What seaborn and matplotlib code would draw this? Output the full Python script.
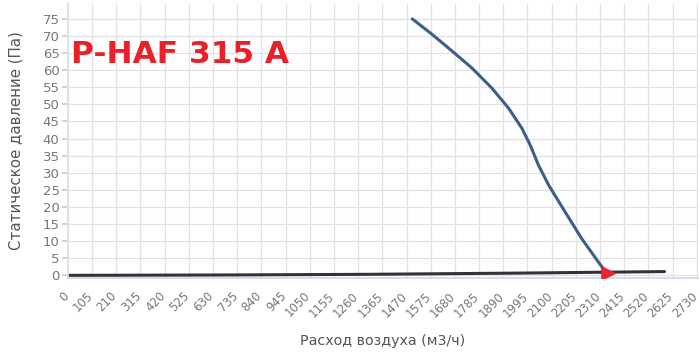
import matplotlib
matplotlib.use("Agg")
import matplotlib.pyplot as plt
import matplotlib.transforms as mtransforms
import seaborn as sns
import pandas as pd

# Fan curve (static pressure vs air flow)
fan_flow = [1495, 1579, 1666, 1753, 1840, 1913, 1971, 2007, 2043, 2087, 2159, 2232, 2305, 2341]
fan_pressure = [75, 70.6, 65.7, 60.7, 54.8, 48.9, 43.0, 38.1, 32.2, 26.4, 18.5, 10.6, 3.7, 0.5]

# System curve
sys_flow = [0, 650, 1300, 1950, 2590]
sys_pressure = [0, 0.1, 0.3, 0.65, 1.1]

# Operating point
op_flow = [2345]
op_pressure = [0.6]

x_ticks = list(range(0, 2731, 105))
y_ticks = list(range(0, 76, 5))
title = "P-HAF 315 A"
x_label = "Расход воздуха (м3/ч)"
y_label = "Статическое давление (Па)"

sns.set_theme(style="white")
plt.rcParams['font.family'] = ['DejaVu Sans']

fig = plt.figure(figsize=(7.0, 3.52), dpi=100)
ax = fig.add_axes([0.097, 0.21, 0.90, 0.78])

df_fan = pd.DataFrame({"flow": fan_flow, "pressure": fan_pressure})
df_sys = pd.DataFrame({"flow": sys_flow, "pressure": sys_pressure})

sns.lineplot(data=df_sys, x="flow", y="pressure", ax=ax, color="#333333", lw=2.2)
sns.lineplot(data=df_fan, x="flow", y="pressure", ax=ax, color="#3d5f86", lw=2.2)
ax.scatter(op_flow, op_pressure, marker=">", s=90, color="#e3262f", zorder=5)

ax.set_xlim(0, 2735)
ax.set_ylim(-0.8, 79.5)
ax.set_xticks(x_ticks)
ax.set_yticks(y_ticks)
ax.tick_params(axis="y", length=4, color="#cccccc", pad=2, left=True)
ax.tick_params(axis="x", length=0, pad=6)
ax.set_xticklabels([str(t) for t in x_ticks], rotation=45, ha="right",
                   rotation_mode="anchor", color="#777777", fontsize=8.5)
ax.set_yticklabels([str(t) for t in y_ticks], color="#777777", fontsize=9.5)
offset = mtransforms.ScaledTranslation(-6 / 100, -3 / 100, fig.dpi_scale_trans)
for lbl in ax.get_xticklabels():
    lbl.set_transform(lbl.get_transform() + offset)
ax.grid(True, color="#e2e2e2", lw=0.9)
for s in ["top", "right"]:
    ax.spines[s].set_visible(False)
ax.spines["left"].set_color("#d6e2f0")
ax.spines["bottom"].set_color("#c8d8ec")
ax.spines["bottom"].set_linewidth(1.2)

ax.set_xlabel(x_label, color="#555555", fontsize=10.3, labelpad=10)
ax.set_ylabel(y_label, color="#555555", fontsize=10.8, labelpad=14)

fig.text(0.101, 0.82, title, color="#e8202a", fontsize=22.5, fontweight="bold",
         family=["DejaVu Sans"], va="baseline")

fig.savefig("out.png", dpi=100)
